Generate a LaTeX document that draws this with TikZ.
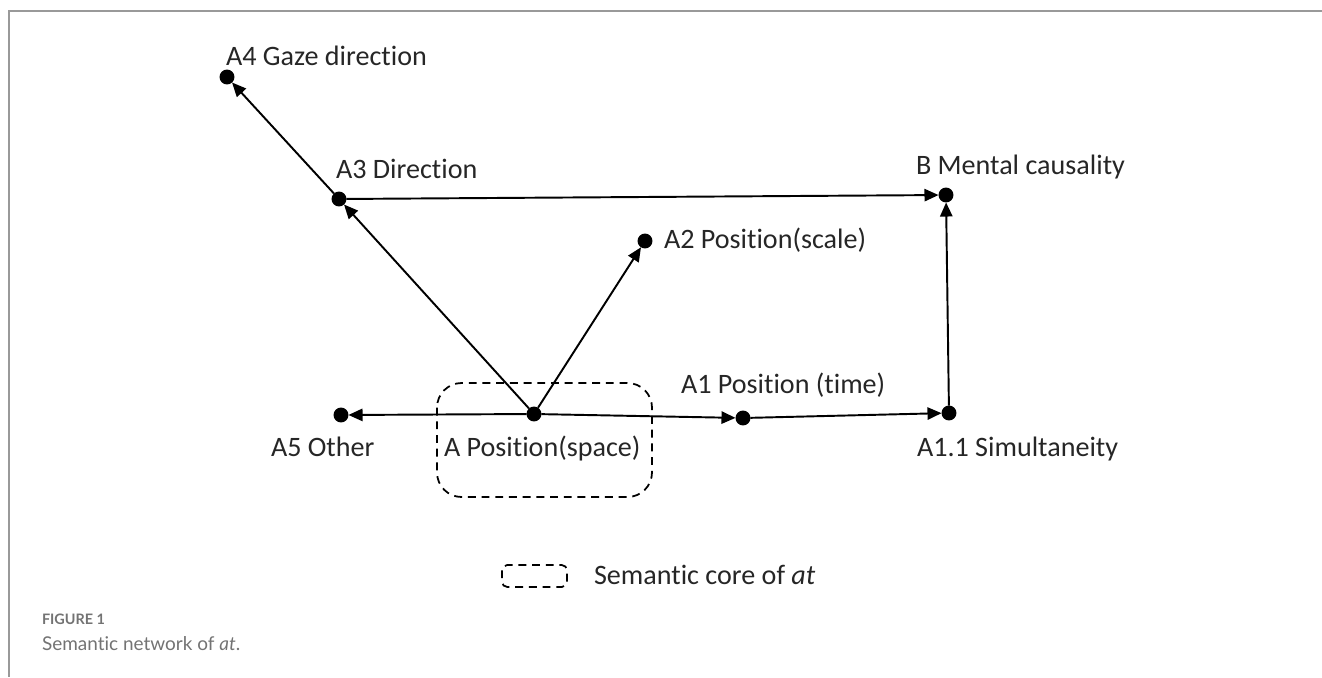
\documentclass[tikz,border=0pt]{standalone}
\usepackage{fontspec}
\setmainfont[Ligatures=NoCommon]{Carlito}
\newfontfamily\capfont[Ligatures=NoCommon]{Lato}
\usepackage{tikz}
\usetikzlibrary{arrows.meta,positioning}

\begin{document}
\begin{tikzpicture}[x=0.02cm, y=-0.02cm]

\tikzstyle{every node}=[inner sep=0pt, outer sep=0pt]
\tikzset{
  dot/.style={circle, fill=black, minimum size=8.5pt},
  lbl/.style={anchor=base west, font=\fontsize{16}{18}\selectfont, text=black!85},
  link/.style={line width=1.1pt, -{Triangle[length=8pt,width=7pt]}},
  core/.style={draw, line width=1pt, dash pattern=on 4.5pt off 3.3pt, rounded corners=14pt}
}

% frame and bounds
\useasboundingbox (0,0) rectangle (1322,677);
\draw[black!40, line width=1pt] (1322,11) -- (9,11) -- (9,677);

% semantic core
\draw[core] (437,383) rectangle (652,497);

\node[dot] (A) at (534,414) {};
\node[dot] (A1) at (743,418) {};
\node[dot] (A11) at (949,413) {};
\node[dot] (A2) at (645,241) {};
\node[dot] (A3) at (339,199) {};
\node[dot] (A4) at (227,77) {};
\node[dot] (A5) at (341,415) {};
\node[dot] (B) at (946,195) {};

\node[lbl] (lA) at (444,456) {A Position(space)};
\node[lbl] (lA1) at (681,393) {A1 Position (time)};
\node[lbl] (lA11) at (917,456) {A1.1 Simultaneity};
\node[lbl] (lA2) at (664,248) {A2 Position(scale)};
\node[lbl] (lA3) at (336,178) {A3 Direction};
\node[lbl] (lA4) at (226,65) {A4 Gaze direction};
\node[lbl] (lA5) at (271,456) {A5 Other};
\node[lbl] (lB) at (916,174) {B Mental causality};

\foreach \i/\j in {A/A5,A/A1,A1/A11,A11/B,A3/B,A/A3,A3/A4,A/A2}{\draw[link] (\i) -- (\j);}

% legend
\draw[core, rounded corners=3pt] (502,565) rectangle (567,587);
\node[lbl] (leg) at (594,584) {Semantic core of \textit{at}};

% caption
\node[anchor=base west, text=black!55, font=\capfont\fontsize{8.2}{10}\selectfont\bfseries] (fig) at (42,624) {FIGURE 1};
\node[anchor=base west, text=black!55, font=\capfont\fontsize{10.8}{13}\selectfont] (cap) at (42,650) {Semantic network of \textit{at}.};

\end{tikzpicture}
\end{document}
